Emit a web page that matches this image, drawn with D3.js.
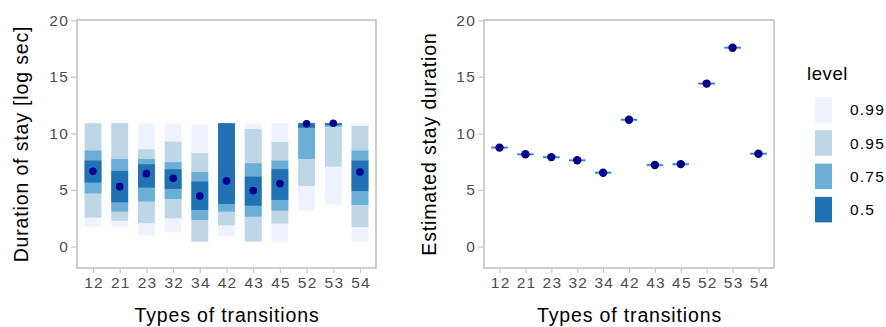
<!DOCTYPE html>
<html>
<head>
<meta charset="utf-8">
<script src="https://cdn.jsdelivr.net/npm/d3@7"></script>
<style>
  body { margin: 0; background: #fff; }
  svg { font-family: "Liberation Sans", Arial, sans-serif; }
</style>
</head>
<body>
<script>
// DATA
// =============================================================================

const transitions = ["12", "21", "23", "32", "34", "42", "43", "45", "52", "53", "54"];
const levels = ["0.99", "0.95", "0.75", "0.5"];
const yTicks = [0, 5, 10, 15, 20];

// left panel: median + interval bounds per level
const durMedian = [6.65, 5.29, 6.44, 6.03, 4.47, 5.80, 4.94, 5.56, 10.84, 10.90, 6.59];
const durLow99  = [1.75, 1.75, 0.96, 1.26, 0.40, 0.93, 0.40, 0.40, 3.17, 3.67, 0.40];
const durHigh99 = [10.9, 10.9, 10.9, 10.9, 10.75, 10.9, 10.9, 10.9, 10.9, 10.9, 10.9];
const durLow95  = [2.55, 2.28, 2.05, 2.49, 0.45, 1.87, 0.45, 2.02, 5.35, 7.06, 1.70];
const durHigh95 = [10.9, 10.9, 8.60, 9.27, 8.25, 10.9, 10.4, 9.25, 10.9, 10.9, 10.66];
const durLow75  = [4.70, 3.08, 3.97, 4.20, 2.35, 3.08, 2.64, 3.17, 7.74, 10.6, 3.67];
const durHigh75 = [8.48, 7.74, 7.74, 7.45, 6.59, 10.9, 7.36, 7.60, 10.9, 10.9, 8.48];
const durLow50  = [5.65, 3.91, 5.20, 5.09, 3.23, 3.76, 3.61, 4.12, 10.5, 10.72, 4.91];
const durHigh50 = [7.60, 6.68, 7.27, 6.83, 5.74, 10.9, 6.18, 6.83, 10.9, 10.9, 7.60];

// right panel: estimate + half width of each interval level
const stayEstimate = [8.74, 8.15, 7.90, 7.62, 6.52, 11.20, 7.20, 7.28, 14.40, 17.57, 8.20];
const stayHalfWidth = [0.16, 0.12, 0.07, 0.04];

// CONFIG
// =============================================================================

const width = 886;
const height = 327;
const panelTop = 20;
const panelBottom = 268;
const panels = [
  { left: 77, right: 376, title: "Duration of stay [log sec]", titleX: 28 },
  { left: 484, right: 774, title: "Estimated stay duration", titleX: 436 }
];

const colors = d3.scaleOrdinal()
    .domain(levels)
    .range(["#eff3ff", "#bdd7e7", "#6baed6", "#2171b5"]);

const lowByLevel = { "0.99": durLow99, "0.95": durLow95, "0.75": durLow75, "0.5": durLow50 };
const highByLevel = { "0.99": durHigh99, "0.95": durHigh95, "0.75": durHigh75, "0.5": durHigh50 };

const yScale = d3.scaleLinear()
    .domain([-1.9, 20.02])
    .range([panelBottom, panelTop]);

const svg = d3.select("body")
    .append("svg")
    .attr("width", width)
    .attr("height", height);

// PANELS
// =============================================================================

panels.forEach(function(p, i) {
  const xScale = d3.scalePoint()
      .domain(transitions)
      .range([p.left, p.right])
      .padding(0.6);
  const barW = (xScale.step()) * 0.63;

  const g = svg.append("g");

  // intervals
  levels.forEach(function(lv, li) {
    const rows = transitions.map(function(t, j) {
      if (i === 0) return { t: t, lo: lowByLevel[lv][j], hi: highByLevel[lv][j] };
      return { t: t, lo: stayEstimate[j] - stayHalfWidth[li], hi: stayEstimate[j] + stayHalfWidth[li] };
    });
    g.selectAll(null)
      .data(rows)
      .enter()
      .append("rect")
      .attr("x", d => xScale(d.t) - barW / 2)
      .attr("width", barW)
      .attr("y", d => yScale(d.hi))
      .attr("height", d => yScale(d.lo) - yScale(d.hi))
      .attr("fill", colors(lv));
  });

  // points
  const pts = i === 0 ? durMedian : stayEstimate;
  g.selectAll(null)
    .data(transitions)
    .enter()
    .append("circle")
    .attr("cx", d => xScale(d))
    .attr("cy", (d, j) => yScale(pts[j]))
    .attr("r", i === 0 ? 3.8 : 4.2)
    .attr("fill", "#00008b");

  // frame
  g.append("rect")
    .attr("x", p.left)
    .attr("y", panelTop)
    .attr("width", p.right - p.left)
    .attr("height", panelBottom - panelTop)
    .attr("fill", "none")
    .attr("stroke", "#c8c8c8")
    .attr("stroke-width", 1.8);

  // axes
  const yAxis = svg.append("g")
    .attr("transform", `translate(${p.left - 1},0)`)
    .call(d3.axisLeft(yScale).tickValues(yTicks).tickSize(5).tickPadding(2));
  const xAxis = svg.append("g")
    .attr("transform", `translate(0,${panelBottom + 1})`)
    .call(d3.axisBottom(xScale).tickSize(4).tickPadding(4));

  [yAxis, xAxis].forEach(function(ax) {
    ax.select(".domain").remove();
    ax.selectAll(".tick line").attr("stroke", "#c8c8c8").attr("stroke-width", 1.2);
    ax.selectAll(".tick text")
      .attr("fill", "#4d4d4d")
      .style("font-size", "15.5px")
      .style("letter-spacing", "1.2px")
      .style("font-family", "Liberation Sans, Arial, sans-serif");
  });
  xAxis.selectAll(".tick text").attr("dx", "0.6px");

  // titles
  svg.append("text")
    .attr("x", (p.left + p.right) / 2 + 0.5)
    .attr("y", 322)
    .attr("text-anchor", "middle")
    .style("font-size", "19.5px")
    .style("letter-spacing", "0.85px")
    .attr("fill", "#000")
    .text("Types of transitions");

  svg.append("text")
    .attr("transform", `translate(${p.titleX},${(panelTop + panelBottom) / 2}) rotate(-90)`)
    .attr("text-anchor", "middle")
    .style("font-size", "19.5px")
    .style("letter-spacing", "0.85px")
    .attr("fill", "#000")
    .text(p.title);
});

// LEGEND
// =============================================================================

const legend = svg.append("g").attr("transform", "translate(807,0)");

legend.append("text")
  .attr("x", 0)
  .attr("y", 80)
  .style("font-size", "18.5px")
  .style("letter-spacing", "0.6px")
  .text("level");

legend.selectAll(null)
  .data(levels)
  .enter()
  .append("rect")
  .attr("x", 8)
  .attr("y", (d, i) => 97 + i * 33.3)
  .attr("width", 17)
  .attr("height", 25.5)
  .attr("fill", d => colors(d));

legend.selectAll(null)
  .data(levels)
  .enter()
  .append("text")
  .attr("x", 43)
  .attr("y", (d, i) => 110 + i * 33.3)
  .attr("dy", "0.35em")
  .style("font-size", "15.5px")
  .style("letter-spacing", "1.2px")
  .text(d => d);
</script>
</body>
</html>
